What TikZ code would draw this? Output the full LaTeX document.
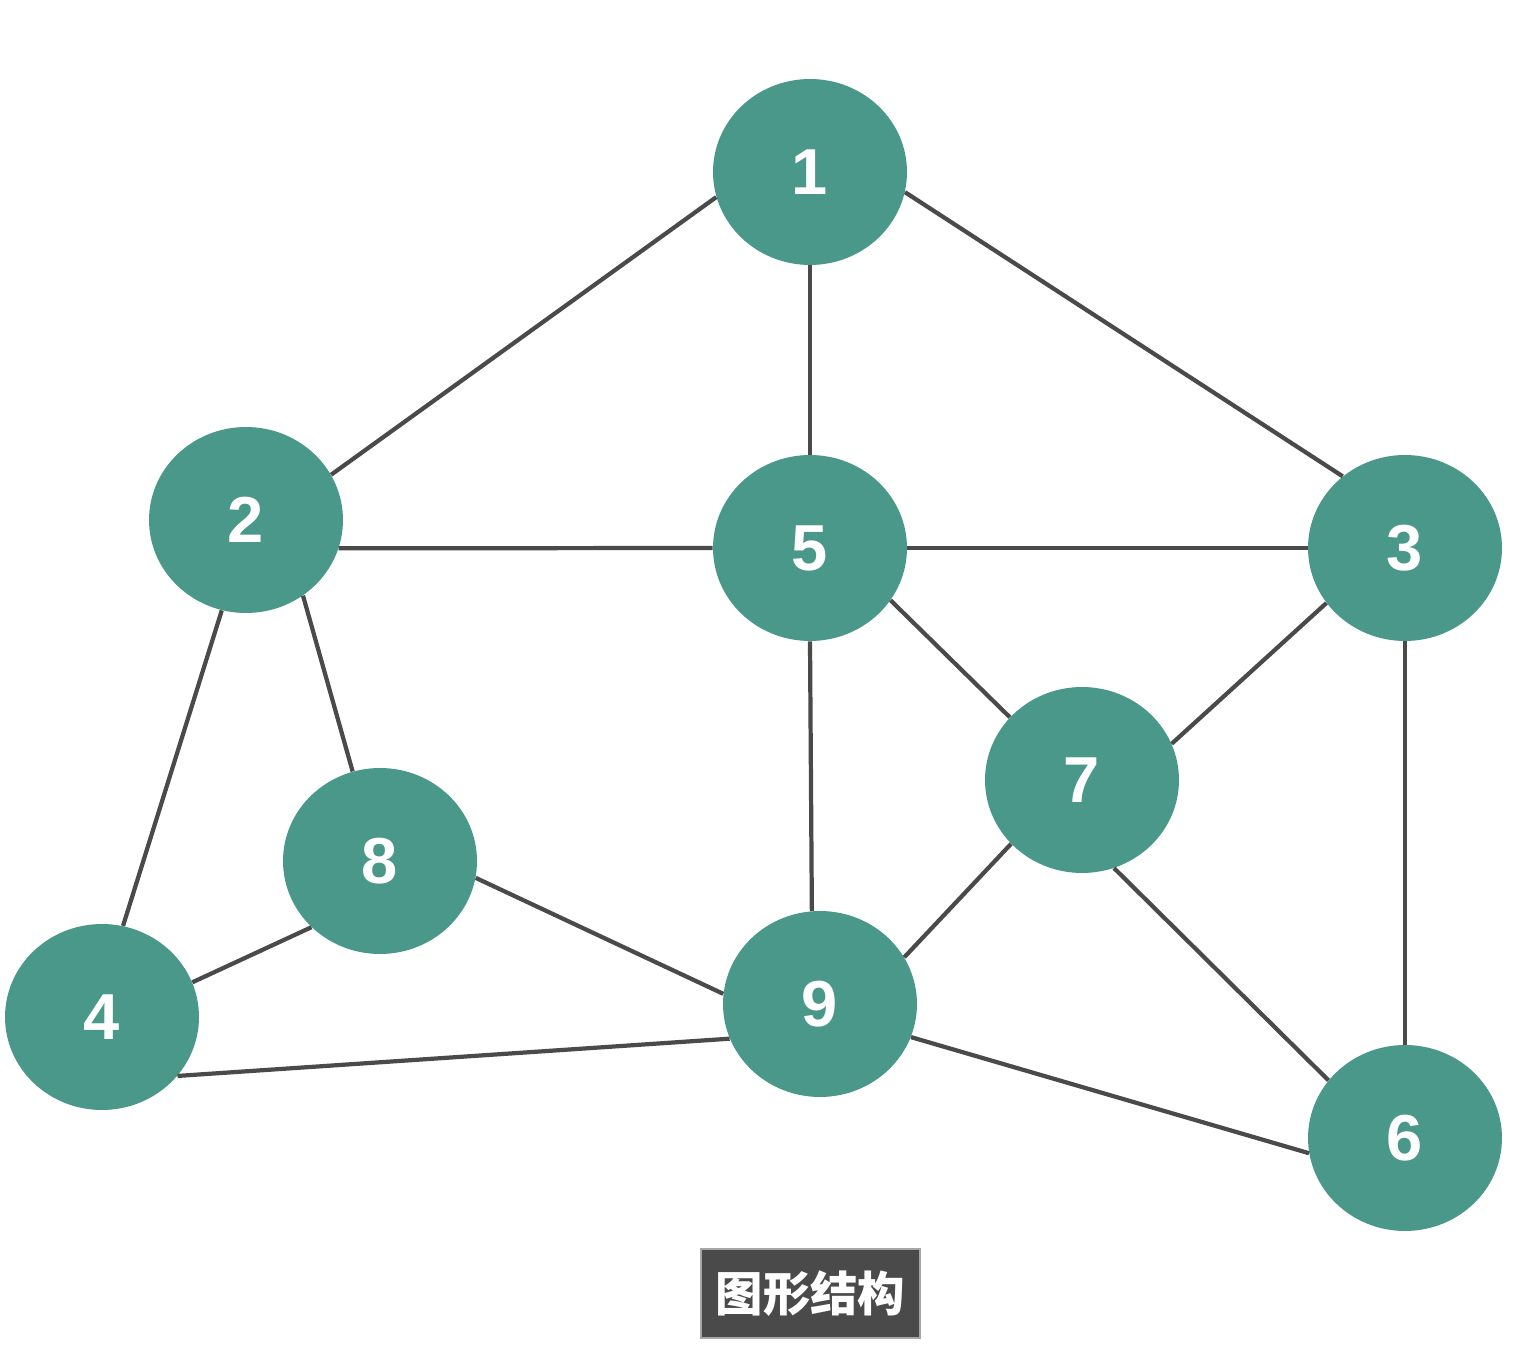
\documentclass[tikz,border=0pt]{standalone}
\usepackage{fontspec}
\setmainfont{Liberation Sans}
\newfontfamily\cjk{Noto Sans CJK SC}
\usetikzlibrary{shapes.geometric}
\definecolor{nodeteal}{HTML}{4A9889}
\definecolor{edgegray}{HTML}{4A4A4A}
\definecolor{boxgray}{HTML}{4A4A4A}
\begin{document}
\begin{tikzpicture}[x=0.02cm,y=-0.02cm,
  vtx/.style={ellipse,fill=nodeteal,minimum width=3.88cm,minimum height=3.72cm,inner sep=0pt,
    text=white,font=\fontsize{37}{40}\selectfont\bfseries},
  edge/.style={draw=edgegray,line width=2.4pt}]
\useasboundingbox (0,0) rectangle (1516,1354);
\fill[white] (0,0) rectangle (1516,1354);
\node[vtx] (n1) at (810,172) {1};
\node[vtx] (n2) at (246,520) {2};
\node[vtx] (n5) at (810,548) {5};
\node[vtx] (n3) at (1405,548) {3};
\node[vtx] (n7) at (1082,780) {7};
\node[vtx] (n8) at (380,861) {8};
\node[vtx] (n4) at (102,1017) {4};
\node[vtx] (n9) at (820,1004) {9};
\node[vtx] (n6) at (1405,1138) {6};
\draw[edge] (n1.195) -- (n2.28.5);
\draw[edge] (n1.south) -- (n5.north);
\draw[edge] (n1.-12.7) -- (n3.131.8);
\draw[edge] (n2.-17) -- (n5.180);
\draw[edge] (n5.0) -- (n3.180);
\draw[edge] (n2.255.8) -- (n4.77);
\draw[edge] (n2.-53.1) -- (n8.107.7);
\draw[edge] (n5.south) -- (n9.95);
\draw[edge] (n5.-33) -- (n7.139.6);
\draw[edge] (n3.215.8) -- (n7.22.4);
\draw[edge] (n3.south) -- (n6.north);
\draw[edge] (n7.222) -- (n9.29.7);
\draw[edge] (n7.-70.4) -- (n6.143);
\draw[edge] (n8.224) -- (n4.21.7);
\draw[edge] (n8.-10.6) -- (n9.174);
\draw[edge] (n4.-38) -- (n9.201);
\draw[edge] (n9.-20.7) -- (n6.189);
\node[fill=boxgray,draw=gray!70,line width=0.6pt,minimum width=4.38cm,minimum height=1.78cm,inner sep=0pt,
  text=white,font=\cjk\fontsize{27}{30}\selectfont\bfseries] (label) at (810.5,1293.5) {图形结构};
\end{tikzpicture}
\end{document}
